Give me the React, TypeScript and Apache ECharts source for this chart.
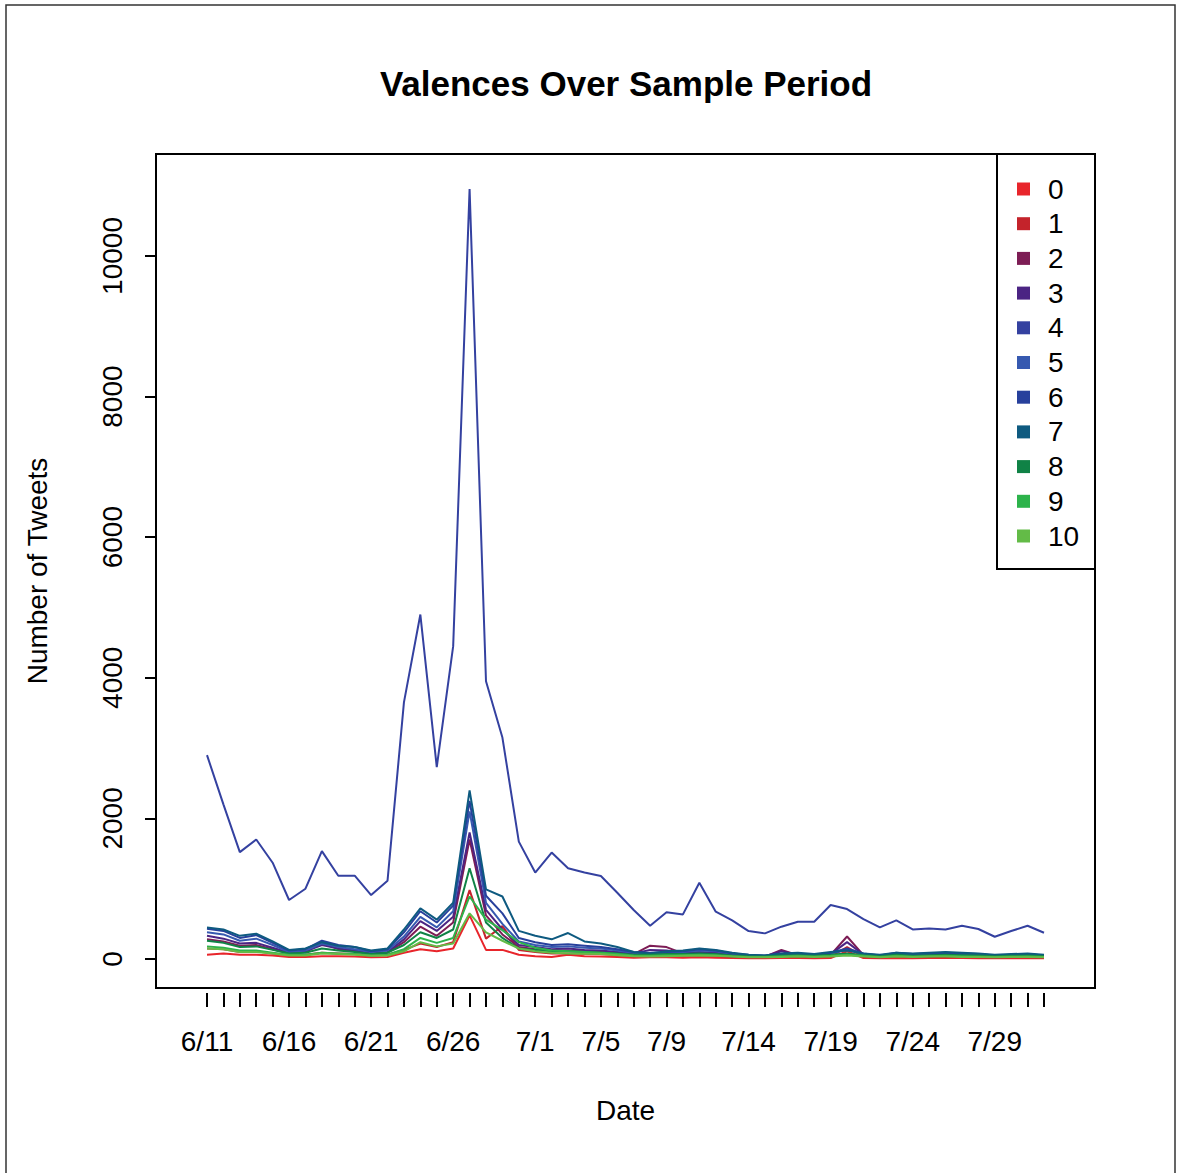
import React, { useEffect, useRef } from "react";
import * as echarts from "echarts";

const dates = [
  "6/11", "6/12", "6/13", "6/14", "6/15", "6/16", "6/17", "6/18", "6/19", "6/20",
  "6/21", "6/22", "6/23", "6/24", "6/25", "6/26", "6/27", "6/28", "6/29", "6/30",
  "7/1", "7/2", "7/3", "7/4", "7/5", "7/6", "7/7", "7/8", "7/9", "7/10",
  "7/11", "7/12", "7/13", "7/14", "7/15", "7/16", "7/17", "7/18", "7/19", "7/20",
  "7/21", "7/22", "7/23", "7/24", "7/25", "7/26", "7/27", "7/28", "7/29", "7/30",
  "7/31", "8/1",
];

const shownLabels = [0, 5, 10, 15, 20, 24, 28, 33, 38, 43, 48];
const yTicks = [0, 2000, 4000, 6000, 8000, 10000];
const seriesNames = ["0", "1", "2", "3", "4", "5", "6", "7", "8", "9", "10"];
const seriesColors = [
  "#E8252B", "#C4232B", "#7D1D55", "#4B2483", "#3441A0", "#3659B0",
  "#27409C", "#0E5A80", "#108246", "#2DB34B", "#63BB47",
];

const v0 = [60, 80, 60, 60, 50, 30, 30, 40, 40, 35, 25, 30, 90, 140, 110, 150, 620, 130, 130, 60,
  40, 30, 60, 40, 35, 30, 20, 25, 25, 20, 25, 20, 15, 10, 10, 15, 15, 10, 15, 110,
  15, 10, 15, 10, 15, 15, 15, 10, 10, 10, 10, 10];
const v1 = [150, 140, 100, 110, 80, 55, 60, 90, 80, 70, 50, 60, 130, 220, 170, 240, 980, 290, 470, 130,
  100, 80, 80, 75, 70, 55, 40, 60, 55, 45, 50, 45, 30, 25, 25, 45, 30, 25, 35, 170,
  30, 20, 35, 25, 30, 30, 30, 25, 20, 25, 25, 20];
const v2 = [280, 250, 190, 200, 140, 80, 100, 230, 140, 110, 70, 90, 240, 460, 330, 520, 1700, 620, 350, 170,
  140, 120, 120, 110, 100, 90, 70, 190, 170, 80, 90, 80, 50, 40, 35, 130, 55, 40, 60, 320,
  55, 35, 60, 45, 50, 60, 50, 45, 35, 40, 45, 35];
const v3 = [330, 290, 220, 230, 160, 90, 110, 200, 150, 120, 80, 100, 280, 540, 400, 600, 1800, 700, 420, 200,
  170, 140, 150, 130, 120, 100, 80, 130, 120, 90, 100, 90, 60, 45, 40, 110, 60, 45, 70, 240,
  60, 40, 70, 50, 60, 70, 60, 50, 40, 45, 50, 40];
const v4 = [2900, 2200, 1520, 1700, 1370, 840, 1000, 1535, 1185, 1185, 910, 1115, 3650, 4900, 2730, 4450, 10950, 3950, 3150, 1670,
  1230, 1515, 1290, 1230, 1180, 943, 697, 473, 664, 635, 1085, 673, 550, 398, 365, 460, 530, 530, 768, 711,
  569, 450, 550, 421, 436, 421, 473, 427, 317, 398, 473, 374];
const v5 = [380, 350, 260, 290, 200, 100, 120, 220, 170, 140, 100, 120, 320, 600, 450, 680, 2100, 800, 500, 250,
  200, 170, 180, 160, 150, 120, 90, 80, 90, 100, 120, 110, 70, 50, 45, 60, 70, 50, 80, 130,
  70, 45, 80, 60, 70, 80, 70, 60, 45, 55, 60, 45];
const v6 = [430, 400, 300, 340, 230, 120, 140, 260, 200, 170, 110, 140, 380, 680, 520, 760, 2250, 900, 650, 300,
  240, 200, 210, 190, 170, 140, 100, 90, 100, 110, 140, 120, 80, 60, 50, 70, 80, 60, 90, 150,
  80, 50, 90, 70, 80, 90, 80, 70, 50, 60, 70, 50];
const v7 = [450, 420, 330, 360, 250, 130, 150, 240, 190, 170, 120, 150, 420, 720, 560, 800, 2400, 990, 890, 400,
  330, 280, 370, 250, 220, 170, 100, 80, 110, 120, 150, 130, 90, 60, 50, 80, 90, 70, 100, 120,
  80, 60, 90, 80, 90, 100, 90, 80, 60, 70, 80, 60];
const v8 = [260, 230, 170, 180, 130, 80, 90, 150, 120, 100, 70, 90, 200, 380, 300, 420, 1290, 520, 300, 150,
  130, 110, 110, 100, 90, 80, 60, 60, 70, 70, 80, 70, 50, 40, 35, 50, 55, 45, 60, 80,
  55, 40, 60, 45, 55, 60, 55, 50, 40, 45, 50, 40];
const v9 = [180, 160, 120, 120, 90, 60, 60, 90, 80, 70, 50, 60, 140, 300, 230, 300, 890, 560, 410, 240,
  160, 120, 110, 100, 90, 70, 50, 45, 55, 55, 60, 55, 40, 30, 30, 40, 45, 35, 45, 60,
  45, 30, 45, 35, 40, 45, 40, 35, 30, 35, 40, 30];
const v10 = [150, 140, 100, 100, 80, 50, 50, 80, 70, 60, 45, 50, 110, 240, 180, 220, 650, 380, 260, 150,
  110, 90, 80, 75, 70, 55, 40, 35, 40, 45, 50, 45, 35, 25, 25, 30, 35, 30, 35, 50,
  35, 25, 35, 30, 35, 35, 30, 30, 25, 30, 30, 25];

const FONT = "'Liberation Sans', Arial, Helvetica, sans-serif";

export default function App() {
  const ref = useRef<HTMLDivElement>(null);

  useEffect(() => {
    if (!ref.current) return;
    const chart = echarts.init(ref.current, null, { renderer: "svg" });
    const values = [v0, v1, v2, v3, v4, v5, v6, v7, v8, v9, v10];

    chart.setOption({
      animation: false,
      backgroundColor: "#ffffff",
      textStyle: { fontFamily: FONT, color: "#000" },
      title: {
        text: "Valences Over Sample Period",
        left: 621,
        top: 61,
        textAlign: "center",
        textStyle: { fontSize: 35, fontWeight: "bold", color: "#000", fontFamily: FONT },
      },
      grid: { left: 207, right: 133, top: 154, bottom: 185 },
      xAxis: {
        type: "category",
        data: dates,
        boundaryGap: false,
        offset: 5,
        axisLine: { show: false, onZero: false },
        axisTick: { show: true, interval: 0, length: 14, lineStyle: { color: "#000", width: 2 } },
        axisLabel: {
          interval: (i: number) => shownLabels.includes(i),
          margin: 34,
          fontSize: 28,
          color: "#000",
          fontFamily: FONT,
        },
        splitLine: { show: false },
        name: "Date",
        nameLocation: "middle",
        nameGap: 103,
        nameTextStyle: { fontSize: 28, color: "#000", fontFamily: FONT },
      },
      yAxis: {
        type: "value",
        min: -412,
        max: 11450,
        offset: 51,
        splitLine: { show: false },
        axisLine: { show: false },
        axisTick: { show: true, length: 11, customValues: yTicks, lineStyle: { color: "#000", width: 2 } },
        axisLabel: {
          customValues: yTicks,
          formatter: (v: number) => String(v),
          rotate: 90,
          margin: 30,
          fontSize: 28,
          color: "#000",
          fontFamily: FONT,
        },
        name: "Number of Tweets",
        nameLocation: "middle",
        nameRotate: 90,
        nameGap: 105,
        nameTextStyle: { fontSize: 28, color: "#000", fontFamily: FONT },
      },
      legend: {
        orient: "vertical",
        left: 1017,
        top: 174,
        padding: 0,
        itemGap: 4.7,
        itemWidth: 13,
        itemHeight: 13,
        icon: "rect",
        data: seriesNames,
        textStyle: { fontSize: 28, lineHeight: 30, color: "#000", fontFamily: FONT, padding: [0, 0, 0, 13] },
      },
      graphic: [
        {
          type: "rect",
          shape: { x: 6, y: 5, width: 1169, height: 1200 },
          style: { fill: "none", stroke: "#333", lineWidth: 1.5 },
          silent: true,
        },
        {
          type: "rect",
          shape: { x: 156, y: 154, width: 939, height: 834 },
          style: { fill: "none", stroke: "#000", lineWidth: 2 },
          silent: true,
        },
        {
          type: "rect",
          shape: { x: 997, y: 154, width: 98, height: 415 },
          style: { fill: "#fff", stroke: "#000", lineWidth: 2 },
          silent: true,
          z: -1,
        },
      ],
      series: values.map((vals, k) => ({
        name: seriesNames[k],
        type: "line",
        data: vals,
        showSymbol: false,
        symbol: "none",
        lineStyle: { width: 2, color: seriesColors[k] },
        itemStyle: { color: seriesColors[k] },
        z: k === 4 ? 3 : 2,
      })),
    });

    return () => chart.dispose();
  }, []);

  return (
    <div
      ref={ref}
      style={{ position: "fixed", left: 0, top: 0, width: 1177, height: 1173, background: "#fff" }}
    />
  );
}
